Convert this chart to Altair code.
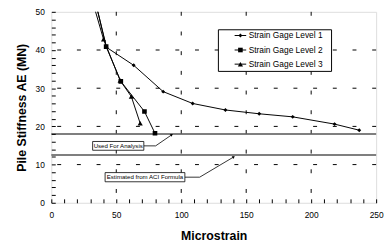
import altair as alt
import pandas as pd

# ---- data ----
series_names = ["Strain Gage Level 1", "Strain Gage Level 2", "Strain Gage Level 3"]
l1_x = [30, 42.5, 63.4, 86.1, 108.8, 134.0, 160.0, 185.8, 218.0, 237.0]
l1_y = [58.2, 40.7, 36.0, 29.1, 26.0, 24.3, 23.3, 22.5, 20.6, 19.0]
l2_x = [30, 42.2, 53.5, 71.7, 79.8]
l2_y = [58.2, 40.9, 31.8, 23.9, 18.2]
l3_x = [30, 40.2, 53.0, 61.6, 68.4]
l3_y = [54.8, 42.8, 32.0, 27.8, 20.8]

ref_values = [18.0, 12.5]
x_grid = [50, 100, 150, 200]
y_grid = [10, 20, 30, 40]
x_ticks = list(range(0, 251, 10))
y_ticks = list(range(0, 51, 2))

# annotations: label, box x range, box y range, leader path
ann_labels = ["Used For Analysis", "Estimated from ACI Formula"]
ann_box_x = [(31.8, 71.2), (41.4, 102.8)]
ann_box_y = [(13.75, 16.05), (5.5, 7.9)]
ann_path_x = [[71.2, 80.3, 92.7], [102.8, 114.2, 140.4]]
ann_path_y = [[14.9, 14.9, 17.8], [6.7, 6.7, 12.0]]
ann_arrow_angle = [55, 60]

# manual legend (data coordinates)
leg_box_x = (128.6, 215.7)
leg_box_y = (34.4, 45.3)
leg_row_y = [43.8, 40.0, 36.3]
leg_line_x = (141.1, 150.0)
leg_text_x = 151.9

FONT = "Liberation Sans"
xs = alt.Scale(domain=[0, 250], nice=False, zero=False)
ys = alt.Scale(domain=[0, 50], nice=False, zero=False)
shape_scale = alt.Scale(domain=series_names, range=["diamond", "square", "triangle-up"])
size_scale = alt.Scale(domain=series_names, range=[16, 28, 24])

rows = []
for name, xv, yv in zip(series_names, [l1_x, l2_x, l3_x], [l1_y, l2_y, l3_y]):
    for i, (a, b) in enumerate(zip(xv, yv)):
        rows.append({"series": name, "x": a, "y": b, "i": i})
df = pd.DataFrame(rows)

xaxis = alt.Axis(values=x_ticks, labelExpr="datum.value % 50 === 0 ? datum.label : ''",
                 offset=-4, tickSize=4, tickColor="black", tickWidth=1, domain=False, grid=False,
                 labelPadding=8, labelFontSize=8.5, labelFont=FONT, labelColor="black",
                 labelOverlap=False, labelFlush=False, zindex=1,
                 title="Microstrain", titleFont=FONT, titleFontSize=12.5, titleFontWeight="bold",
                 titlePadding=11, titleColor="black")
yaxis = alt.Axis(values=y_ticks, labelExpr="datum.value % 10 === 0 ? datum.label : ''",
                 offset=-4, tickSize=4, tickColor="black", tickWidth=1, domain=False, grid=False,
                 labelPadding=7, labelFontSize=8.5, labelFont=FONT, labelColor="black",
                 labelOverlap=False, labelFlush=False, zindex=1,
                 title="Pile Stiffness AE  (MN)", titleFont=FONT, titleFontSize=12.5,
                 titleFontWeight="bold", titlePadding=7, titleColor="black")

base = alt.Chart(df)

gx = alt.Chart(pd.DataFrame({"v": x_grid})).mark_rule(color="black", strokeWidth=1, strokeDash=[4, 16]).encode(
    x=alt.X("v:Q", scale=xs, axis=xaxis))
gy = alt.Chart(pd.DataFrame({"v": y_grid})).mark_rule(color="black", strokeWidth=1, strokeDash=[4, 16]).encode(
    y=alt.Y("v:Q", scale=ys, axis=yaxis))
refs = alt.Chart(pd.DataFrame({"v": ref_values})).mark_rule(color="#555555", strokeWidth=1.5).encode(
    y=alt.Y("v:Q", scale=ys, axis=yaxis))

lines = base.mark_line(color="black", strokeWidth=1, clip=True).encode(
    x=alt.X("x:Q", scale=xs, axis=xaxis), y=alt.Y("y:Q", scale=ys, axis=yaxis),
    detail="series:N", order="i:Q")
pts = base.mark_point(filled=True, color="black", opacity=1, clip=True).encode(
    x=alt.X("x:Q", scale=xs, axis=xaxis), y=alt.Y("y:Q", scale=ys, axis=yaxis),
    shape=alt.Shape("series:N", scale=shape_scale, legend=None),
    size=alt.Size("series:N", scale=size_scale, legend=None))

# annotations
box_df = pd.DataFrame({"label": ann_labels,
                       "x1": [b[0] for b in ann_box_x], "x2": [b[1] for b in ann_box_x],
                       "y1": [b[0] for b in ann_box_y], "y2": [b[1] for b in ann_box_y]})
box_df["xm"] = (box_df.x1 + box_df.x2) / 2
box_df["ym"] = (box_df.y1 + box_df.y2) / 2
boxes = alt.Chart(box_df).mark_rect(fill="white", stroke="black", strokeWidth=0.8).encode(
    x=alt.X("x1:Q", scale=xs, axis=xaxis), x2="x2:Q", y=alt.Y("y1:Q", scale=ys, axis=yaxis), y2="y2:Q")
box_txt = alt.Chart(box_df).mark_text(font=FONT, fontSize=6.2, color="black").encode(
    x=alt.X("xm:Q", scale=xs, axis=xaxis), y=alt.Y("ym:Q", scale=ys, axis=yaxis), text="label:N")
lead_rows = []
for k, (px, py) in enumerate(zip(ann_path_x, ann_path_y)):
    for i, (a, b) in enumerate(zip(px, py)):
        lead_rows.append({"k": k, "i": i, "x": a, "y": b})
lead_df = pd.DataFrame(lead_rows)
leaders = alt.Chart(lead_df).mark_line(color="black", strokeWidth=0.8).encode(
    x=alt.X("x:Q", scale=xs, axis=xaxis), y=alt.Y("y:Q", scale=ys, axis=yaxis), detail="k:N", order="i:Q")
arrow_df = pd.DataFrame({"x": [p[-1] for p in ann_path_x], "y": [p[-1] for p in ann_path_y],
                         "a": ann_arrow_angle})
arrows = alt.Chart(arrow_df).mark_point(shape="triangle-up", filled=True, color="black", size=10, opacity=1).encode(
    x=alt.X("x:Q", scale=xs, axis=xaxis), y=alt.Y("y:Q", scale=ys, axis=yaxis),
    angle=alt.Angle("a:Q", scale=None))

# legend
leg_box = alt.Chart(pd.DataFrame({"x1": [leg_box_x[0]], "x2": [leg_box_x[1]],
                                  "y1": [leg_box_y[0]], "y2": [leg_box_y[1]]})).mark_rect(
    fill="white", stroke="black", strokeWidth=1).encode(
    x=alt.X("x1:Q", scale=xs, axis=xaxis), x2="x2:Q", y=alt.Y("y1:Q", scale=ys, axis=yaxis), y2="y2:Q")
leg_df = pd.DataFrame({"series": series_names, "y": leg_row_y,
                       "x1": [leg_line_x[0]] * 3, "x2": [leg_line_x[1]] * 3,
                       "xm": [(leg_line_x[0] + leg_line_x[1]) / 2] * 3, "xt": [leg_text_x] * 3})
leg_lines = alt.Chart(leg_df).mark_rule(color="black", strokeWidth=1).encode(
    x=alt.X("x1:Q", scale=xs, axis=xaxis), x2="x2:Q", y=alt.Y("y:Q", scale=ys, axis=yaxis))
leg_pts = alt.Chart(leg_df).mark_point(filled=True, color="black", opacity=1).encode(
    x=alt.X("xm:Q", scale=xs, axis=xaxis), y=alt.Y("y:Q", scale=ys, axis=yaxis),
    shape=alt.Shape("series:N", scale=shape_scale, legend=None),
    size=alt.Size("series:N", scale=size_scale, legend=None))
leg_txt = alt.Chart(leg_df).mark_text(font=FONT, fontSize=8.5, align="left", color="black").encode(
    x=alt.X("xt:Q", scale=xs, axis=xaxis), y=alt.Y("y:Q", scale=ys, axis=yaxis), text="series:N")

chart = alt.layer(gx, gy, refs, lines, pts, leaders, arrows, boxes, box_txt,
                  leg_box, leg_lines, leg_pts, leg_txt).properties(
    width=330, height=194,
    autosize=alt.AutoSizeParams(type="none"),
    padding={"left": 44, "top": 2, "right": 8, "bottom": 40},
).configure_view(stroke="black", strokeWidth=1).configure(background="white")

chart.save("out.html", embed_options={"renderer": "svg", "actions": False})
